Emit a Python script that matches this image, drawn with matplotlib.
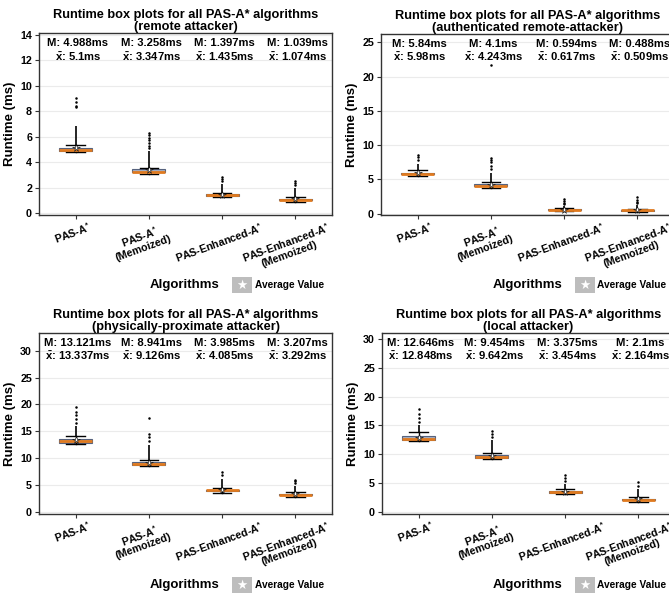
import matplotlib
matplotlib.use("Agg")
import matplotlib.pyplot as plt
from matplotlib.patches import Rectangle
import matplotlib.transforms as mtransforms

plt.rcParams["font.family"] = ["Liberation Sans", "DejaVu Sans"]
plt.rcParams["mathtext.fontset"] = "custom"
plt.rcParams["mathtext.rm"] = "Liberation Sans:bold"
plt.rcParams["mathtext.it"] = "Liberation Sans:bold"
plt.rcParams["mathtext.bf"] = "Liberation Sans:bold"

# ---------------- data ----------------
algorithms = ["PAS-A$^{*}$", "PAS-A$^{*}$\n(Memoized)",
              "PAS-Enhanced-A$^{*}$", "PAS-Enhanced-A$^{*}$\n(Memoized)"]

titles = ["Runtime box plots for all PAS-A* algorithms\n(remote attacker)",
          "Runtime box plots for all PAS-A* algorithms\n(authenticated remote-attacker)",
          "Runtime box plots for all PAS-A* algorithms\n(physically-proximate attacker)",
          "Runtime box plots for all PAS-A* algorithms\n(local attacker)"]

# remote attacker
remote_median = [4.988, 3.258, 1.397, 1.039]
remote_mean = [5.1, 3.347, 1.435, 1.074]
remote_q1 = [4.90, 3.20, 1.36, 1.00]
remote_q3 = [5.10, 3.45, 1.47, 1.10]
remote_whislo = [4.80, 3.10, 1.25, 0.90]
remote_whishi = [5.35, 3.55, 1.60, 1.25]
remote_dense_top = [6.8, 4.9, 2.3, 2.0]
remote_fliers = [[8.3, 8.4, 8.7, 9.0], [5.1, 5.3, 5.5, 5.7, 5.9, 6.1, 6.25],
                 [2.5, 2.7, 2.8], [2.2, 2.35, 2.5]]

# authenticated remote-attacker
auth_median = [5.84, 4.1, 0.594, 0.488]
auth_mean = [5.98, 4.243, 0.617, 0.509]
auth_q1 = [5.75, 4.00, 0.55, 0.45]
auth_q3 = [6.00, 4.30, 0.65, 0.55]
auth_whislo = [5.50, 3.80, 0.35, 0.25]
auth_whishi = [6.40, 4.60, 0.85, 0.75]
auth_dense_top = [7.2, 6.0, 1.2, 1.3]
auth_fliers = [[7.8, 8.3, 8.6], [6.5, 7.0, 7.5, 7.8, 8.2, 21.7],
               [1.4, 1.6, 1.8, 2.1], [1.5, 1.7, 2.0, 2.4]]

# physically-proximate attacker
phys_median = [13.121, 8.941, 3.985, 3.207]
phys_mean = [13.337, 9.126, 4.085, 3.292]
phys_q1 = [12.90, 8.80, 3.85, 3.10]
phys_q3 = [13.60, 9.20, 4.15, 3.40]
phys_whislo = [12.60, 8.50, 3.55, 2.80]
phys_whishi = [14.20, 9.60, 4.50, 3.70]
phys_dense_top = [16.0, 12.5, 6.2, 4.8]
phys_fliers = [[16.5, 17.2, 18.0, 18.6, 19.5], [13.2, 14.0, 14.5, 17.5],
               [6.8, 7.4], [5.3, 5.8, 6.0]]

# local attacker
local_median = [12.646, 9.454, 3.375, 2.1]
local_mean = [12.848, 9.642, 3.454, 2.164]
local_q1 = [12.40, 9.30, 3.30, 2.00]
local_q3 = [13.10, 9.80, 3.55, 2.25]
local_whislo = [12.20, 9.10, 3.00, 1.75]
local_whishi = [13.80, 10.20, 3.90, 2.60]
local_dense_top = [15.0, 12.5, 4.8, 4.0]
local_fliers = [[15.5, 16.2, 17.0, 17.8], [13.0, 13.5, 14.0],
                [5.3, 5.8, 6.3], [4.5, 5.2]]

panels = [
    (remote_median, remote_mean, remote_q1, remote_q3, remote_whislo, remote_whishi, remote_dense_top, remote_fliers),
    (auth_median, auth_mean, auth_q1, auth_q3, auth_whislo, auth_whishi, auth_dense_top, auth_fliers),
    (phys_median, phys_mean, phys_q1, phys_q3, phys_whislo, phys_whishi, phys_dense_top, phys_fliers),
    (local_median, local_mean, local_q1, local_q3, local_whislo, local_whishi, local_dense_top, local_fliers),
]
ylims = [(-0.2, 14.15), (-0.25, 26.2), (-0.4, 33.3), (-0.4, 31.05)]
yticks = [list(range(0, 15, 2)), list(range(0, 26, 5)), list(range(0, 31, 5)), list(range(0, 31, 5))]

def fmt(v):
    return ("%.3f" % v).rstrip("0").rstrip(".")

# ---------------- figure ----------------
W, H = 669, 598
fig = plt.figure(figsize=(W / 100, H / 100), dpi=100)

# axes boxes in pixels: left, top, right, bottom
boxes_px = [(39, 33, 332, 215.5), (381, 34, 674, 215.5),
            (39, 333, 332, 514), (382, 333, 675, 514)]

positions = [1, 2, 3, 4]
for i, (ax_px, data) in enumerate(zip(boxes_px, panels)):
    l, t, r, b = ax_px
    ax = fig.add_axes([l / W, 1 - b / H, (r - l) / W, (b - t) / H])
    med, mean, q1, q3, wlo, whi, dtop, fl = data
    stats = []
    for k in range(4):
        stats.append(dict(med=med[k], q1=q1[k], q3=q3[k], whislo=wlo[k],
                          whishi=whi[k], fliers=fl[k], mean=mean[k]))
    # dense outlier column
    ax.vlines(positions, whi, dtop, color="black", lw=1.2, zorder=2)
    ax.bxp(stats, positions=positions, widths=0.45, capwidths=0.25,
           patch_artist=True, showmeans=True,
           boxprops=dict(facecolor="#A7AFC0", edgecolor="#56627E", lw=0.8),
           medianprops=dict(color="#E07A1F", lw=2.0),
           whiskerprops=dict(color="black", lw=1.0),
           capprops=dict(color="black", lw=1.0),
           flierprops=dict(marker="o", markersize=0.8, markerfacecolor="black",
                           markeredgecolor="black", linestyle="none"),
           meanprops=dict(marker="*", markersize=5.5, markerfacecolor="white",
                          markeredgecolor="black", markeredgewidth=0.4),
           zorder=3)
    ax.set_xlim(0.5, 4.5)
    ax.set_ylim(*ylims[i])
    ax.set_yticks(yticks[i])
    ax.set_xticks(positions)
    ax.set_xticklabels([])
    xtrans = mtransforms.blended_transform_factory(ax.transData, ax.transAxes)
    for k, name in enumerate(algorithms):
        shift = -8 if "\n" in name else -3
        off = mtransforms.ScaledTranslation(shift / 100, -5 / 100, fig.dpi_scale_trans)
        ax.text(positions[k], 0, name, transform=xtrans + off, rotation=20,
                ha="center", va="top", fontsize=7.7, fontweight="bold",
                linespacing=1.0, clip_on=False)
    for lab in ax.get_yticklabels():
        lab.set_fontsize(7.7)
        lab.set_fontweight("bold")
    ax.tick_params(axis="both", length=3, width=0.8, color="#333333", pad=2)
    ax.grid(axis="y", color="#EBEBEB", lw=0.8, zorder=0)
    ax.set_axisbelow(True)
    for sp in ax.spines.values():
        sp.set_color("#333333")
        sp.set_linewidth(1.0)
    ax.set_ylabel("Runtime (ms)", fontsize=9.5, fontweight="bold", labelpad=3)
    ax.set_title(titles[i], fontsize=9.2, fontweight="bold", linespacing=1.0, pad=2)
    trans = mtransforms.blended_transform_factory(ax.transData, ax.transAxes)
    for k in range(4):
        ax.text(positions[k] + 0.03, 0.945, "M: " + fmt(med[k]) + "ms", transform=trans,
                ha="center", va="center", fontsize=8.1, fontweight="bold")
        ax.text(positions[k] + 0.03, 0.872, r"$\bar{\mathregular{x}}$: " + fmt(mean[k]) + "ms",
                transform=trans, ha="center", va="center", fontsize=8.1,
                fontweight="bold")

# x-axis titles and legends
legend_rows = [(285, 185, 232, 255), (285, 528, 575, 597),
               (585, 185, 232, 255), (585, 528, 575, 597)]
for (yc, xc, sqx, txx) in legend_rows:
    fig.text(xc / W, 1 - yc / H, "Algorithms", ha="center", va="center",
             fontsize=9.5, fontweight="bold")
    fig.patches.append(Rectangle((sqx / W, 1 - (yc + 8) / H), 20 / W, 16 / H,
                                 transform=fig.transFigure, facecolor="#BDBDBD",
                                 edgecolor="none"))
    fig.text((sqx + 10) / W, 1 - yc / H, "\u2605", ha="center", va="center",
             fontsize=9, color="white", family="DejaVu Sans")
    fig.text(txx / W, 1 - yc / H, "Average Value", ha="left", va="center",
             fontsize=7.3, fontweight="bold")

fig.savefig("out.png", dpi=100)
